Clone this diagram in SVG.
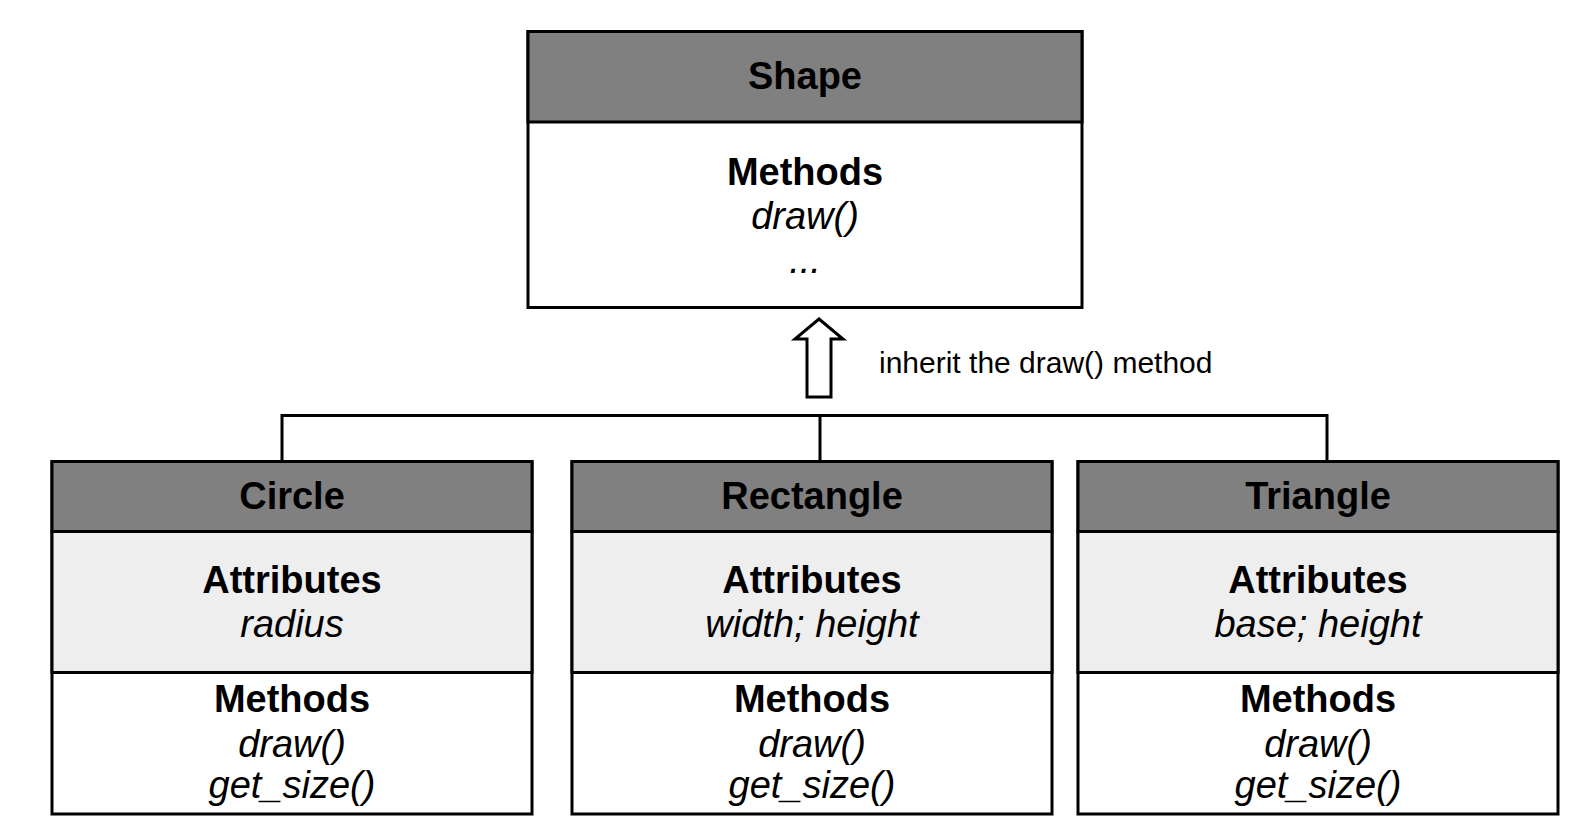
<svg xmlns="http://www.w3.org/2000/svg" width="1596" height="840" viewBox="0 0 1596 840">
<style>
.hd{fill:#808080;stroke:#000;stroke-width:3}
.at{fill:#eeeeee;stroke:#000;stroke-width:3}
.me{fill:#ffffff;stroke:#000;stroke-width:3}
.b{font-family:"Liberation Sans",Arial,sans-serif;font-weight:bold;font-size:38px;text-anchor:middle;fill:#000}
.i{font-family:"Liberation Sans",Arial,sans-serif;font-style:italic;font-size:38px;text-anchor:middle;fill:#000}
.lbl{font-family:"Liberation Sans",Arial,sans-serif;font-size:30px;fill:#000}
.con{fill:none;stroke:#000;stroke-width:3}
</style>
<rect width="1596" height="840" fill="#fff"/>
<g id="connectors">
<polyline class="con" points="282,461.5 282,415.5 1327,415.5 1327,461.5"/>
<line class="con" x1="820" y1="415.5" x2="820" y2="461.5"/>
<polygon points="819,319 843,339 831,339 831,397 807,397 807,339 795,339" fill="#fff" stroke="#000" stroke-width="3" stroke-linejoin="miter"/>
<text class="lbl" x="879" y="373">inherit the draw() method</text>
</g>
<g id="shape">
<rect class="me" x="528" y="31.5" width="554" height="276"/>
<rect class="hd" x="528" y="31.5" width="554" height="90.5"/>
<text class="b" x="805" y="89">Shape</text>
<text class="b" x="805" y="185">Methods</text>
<text class="i" x="805" y="229">draw()</text>
<text class="i" x="805" y="273">...</text>
</g>
<g id="circle">
<rect class="me" x="52" y="461.5" width="480" height="352.5"/>
<rect class="at" x="52" y="531.5" width="480" height="141"/>
<rect class="hd" x="52" y="461.5" width="480" height="70"/>
<text class="b" x="292" y="509">Circle</text>
<text class="b" x="292" y="593">Attributes</text>
<text class="i" x="292" y="637">radius</text>
<text class="b" x="292" y="712">Methods</text>
<text class="i" x="292" y="757">draw()</text>
<text class="i" x="292" y="798">get_size()</text>
</g>
<g id="rectangle">
<rect class="me" x="572" y="461.5" width="480" height="352.5"/>
<rect class="at" x="572" y="531.5" width="480" height="141"/>
<rect class="hd" x="572" y="461.5" width="480" height="70"/>
<text class="b" x="812" y="509">Rectangle</text>
<text class="b" x="812" y="593">Attributes</text>
<text class="i" x="812" y="637">width; height</text>
<text class="b" x="812" y="712">Methods</text>
<text class="i" x="812" y="757">draw()</text>
<text class="i" x="812" y="798">get_size()</text>
</g>
<g id="triangle">
<rect class="me" x="1078" y="461.5" width="480" height="352.5"/>
<rect class="at" x="1078" y="531.5" width="480" height="141"/>
<rect class="hd" x="1078" y="461.5" width="480" height="70"/>
<text class="b" x="1318" y="509">Triangle</text>
<text class="b" x="1318" y="593">Attributes</text>
<text class="i" x="1318" y="637">base; height</text>
<text class="b" x="1318" y="712">Methods</text>
<text class="i" x="1318" y="757">draw()</text>
<text class="i" x="1318" y="798">get_size()</text>
</g>
</svg>
